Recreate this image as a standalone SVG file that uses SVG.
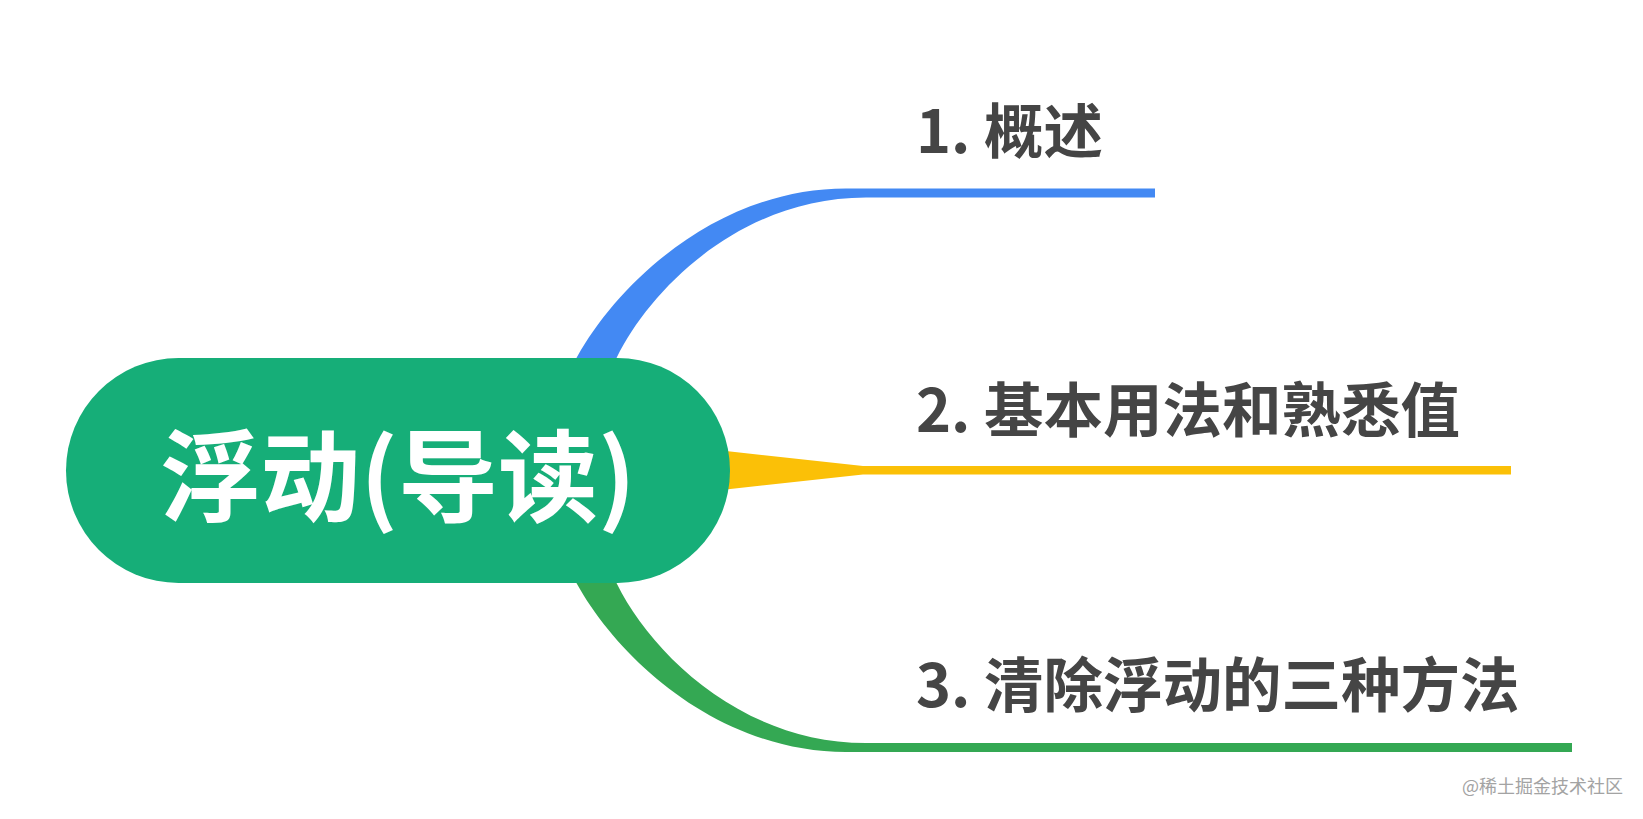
<svg xmlns="http://www.w3.org/2000/svg" width="1643" height="819" viewBox="0 0 1643 819">
<style>
.topic{font-family:"Noto Sans CJK SC","Noto Sans",sans-serif;font-weight:bold;font-size:59.5px;fill:#454545}
.root{font-family:"Noto Sans CJK SC","Noto Sans",sans-serif;font-weight:bold;font-size:100px;fill:#ffffff}
.wm{font-family:"Noto Sans CJK SC","Noto Sans",sans-serif;font-size:18px;fill:#a3a3a3}
</style>
<rect width="1643" height="819" fill="#ffffff"/>
<g id="connectors">
<path d="M 565 378 L 577 357 C 620 280 720 188.5 846 188.5 L 1155 188.5 L 1155 197.5 L 866 197.5 C 740 197.5 650 290 617 357 L 607 378 Z" fill="#4389F3"/>
<path d="M 690 447 L 863 466 L 1511 466 L 1511 474.5 L 863 474.5 L 690 493.5 Z" fill="#FBC007"/>
<path d="M 565 563 L 577 584 C 620 661 720 752 846 752 L 1572 752 L 1572 743 L 866 743 C 740 743 650 651 617 584 L 607 563 Z" fill="#34A853"/>
</g>
<g id="root">
<rect x="66" y="358" width="664" height="225" rx="112.5" ry="112.5" fill="#16AE78"/>
<text class="root" x="398" y="514" text-anchor="middle">浮动(导读)</text>
</g>
<g id="topic1">
<text class="topic" x="916" y="153">1. 概述</text>
</g>
<g id="topic2">
<text class="topic" x="916" y="432">2. 基本用法和熟悉值</text>
</g>
<g id="topic3">
<text class="topic" x="916" y="707">3. 清除浮动的三种方法</text>
</g>
<text class="wm" x="1462" y="793">@稀土掘金技术社区</text>
</svg>
